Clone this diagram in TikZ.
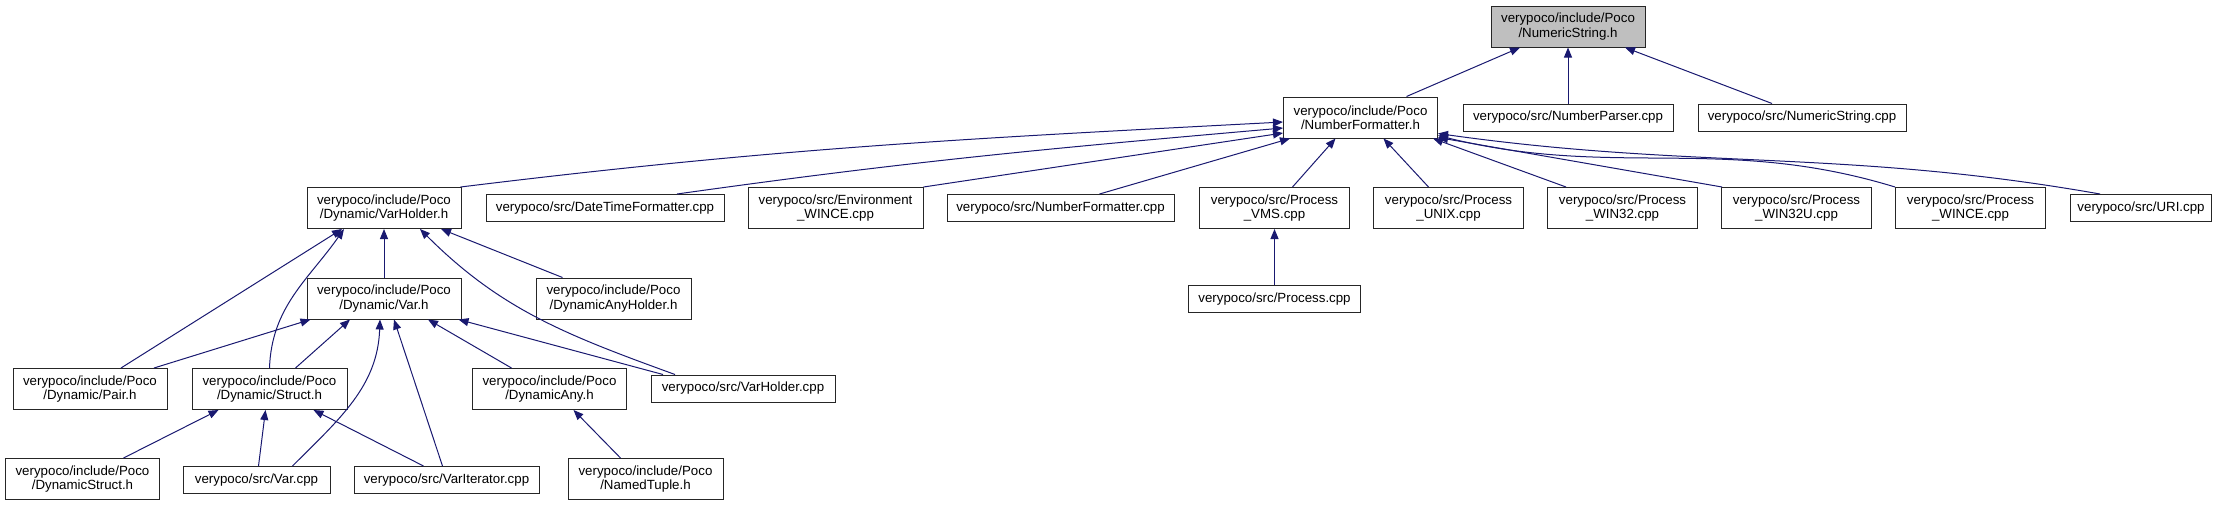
\documentclass[tikz,border=0pt]{standalone}
\usepackage{fontspec}
\setmainfont{Liberation Sans}
\usepackage{xcolor}
\usetikzlibrary{arrows.meta,positioning}
\definecolor{edgeblue}{HTML}{191970}

\begin{document}
\begin{tikzpicture}[
	x=1pt, y=-1pt,
	node distance=23pt,
	every node/.style={font=\fontsize{13.3}{14.5}\selectfont},
	box/.style={draw=black!85, line width=1pt, align=center, inner sep=0pt, minimum width=154pt, minimum height=41pt},
	one/.style={box, minimum height=27pt},
	root/.style={box, fill=black!25},
	arrow/.style={-{Triangle[length=10pt,width=8pt]}, edgeblue, line width=1pt}
	]
	\useasboundingbox (0,0) rectangle (2223,507);
	
	% top two rows
	\node[root] (NS) at (1568,26.5) {verypoco/include/Poco\\/NumericString.h};
	\node[box] (NF) at (1360.5,117.5) {verypoco/include/Poco\\/NumberFormatter.h};
	\node[one, minimum width=210pt] (NP) at (1568,117.5) {verypoco/src/NumberParser.cpp};
	\node[one, minimum width=208pt] (NSc) at (1802,117.5) {verypoco/src/NumericString.cpp};
	
	% files that include NumberFormatter.h
	\node[box] (VH) at (384,208) {verypoco/include/Poco\\/Dynamic/VarHolder.h};
	\node[one, minimum width=238pt] (DTF) at (605,208) {verypoco/src/DateTimeFormatter.cpp};
	\node[box, minimum width=175pt] (Env) at (835.5,208) {verypoco/src/Environment\\\_WINCE.cpp};
	\node[one, minimum width=227pt] (NFc) at (1060.5,208) {verypoco/src/NumberFormatter.cpp};
	\node[box, minimum width=150pt] (VMS) at (1274.5,208) {verypoco/src/Process\\\_VMS.cpp};
	\node[box, minimum width=150pt, right=of VMS] (UNIX) {verypoco/src/Process\\\_UNIX.cpp};
	\node[box, minimum width=150pt, right=of UNIX] (W32) {verypoco/src/Process\\\_WIN32.cpp};
	\node[box, minimum width=150pt, right=of W32] (W32U) {verypoco/src/Process\\\_WIN32U.cpp};
	\node[box, minimum width=150pt, right=of W32U] (WCE) {verypoco/src/Process\\\_WINCE.cpp};
	\node[one, minimum width=141pt, right=24pt of WCE] (URI) {verypoco/src/URI.cpp};
	\node[one, minimum width=172pt, below=56pt of VMS] (Pc) {verypoco/src/Process.cpp};
	
	% Dynamic part
	\node[box] (Var) at (384,298.5) {verypoco/include/Poco\\/Dynamic/Var.h};
	\node[box, minimum width=155pt] (DAH) at (613.5,298.5) {verypoco/include/Poco\\/DynamicAnyHolder.h};
	\node[box] (Pair) at (90,389) {verypoco/include/Poco\\/Dynamic/Pair.h};
	\node[box, minimum width=155pt] (Struct) at (269.5,389) {verypoco/include/Poco\\/Dynamic/Struct.h};
	\node[box] (DA) at (549.5,389) {verypoco/include/Poco\\/DynamicAny.h};
	\node[one, minimum width=184pt] (VHc) at (743,388.5) {verypoco/src/VarHolder.cpp};
	\node[box] (DS) at (82.5,479) {verypoco/include/Poco\\/DynamicStruct.h};
	\node[one, minimum width=147pt] (Vc) at (256.5,480) {verypoco/src/Var.cpp};
	\node[one, minimum width=185pt] (VI) at (446.5,480) {verypoco/src/VarIterator.cpp};
	\node[box, minimum width=155pt] (NT) at (645.5,479) {verypoco/include/Poco\\/NamedTuple.h};
	
	% edges into NumericString.h
	\draw[arrow] ([xshift=46pt]NF.north) -- ([xshift=-48pt]NS.south);
	\draw[arrow] (NP) -- (NS);
	\draw[arrow] ([xshift=-30pt]NSc.north) -- ([xshift=57pt]NS.south);
	
	% edges into NumberFormatter.h
	\draw[arrow] ([xshift=-1pt]VH.north east) to[out=7, in=183] ([yshift=-4.5pt]NF.west);
	\draw[arrow] ([xshift=72pt]DTF.north) to[out=8, in=185] ([yshift=-10.5pt]NF.west);
	\draw[arrow] (Env.north east) -- ([yshift=-15.5pt]NF.west);
	\draw[arrow] ([xshift=39pt]NFc.north) -- ([xshift=7pt]NF.south west);
	\draw[arrow] ([xshift=18pt]VMS.north) -- ([xshift=-25pt]NF.south);
	\draw[arrow] ([xshift=-20pt]UNIX.north) -- ([xshift=23pt]NF.south);
	\draw[arrow] ([xshift=19pt]W32.north west) -- ([xshift=-5pt]NF.south east);
	\draw[arrow] ([xshift=1pt]W32U.north west) -- ([yshift=1pt]NF.south east);
	\draw[arrow] (WCE.north west) to[out=163, in=-14] ([yshift=3pt]NF.south east);
	\draw[arrow] ([xshift=-41pt]URI.north) to[out=170, in=-8] ([yshift=5pt]NF.south east);
	\draw[arrow] (Pc) -- (VMS);
	
	% edges into VarHolder.h
	\draw[arrow] (Var) -- (VH);
	\draw[arrow] ([xshift=-51pt]DAH.north) -- ([xshift=57pt]VH.south);
	\draw[arrow] ([xshift=31pt]Pair.north) -- ([xshift=-42pt]VH.south);
	\draw[arrow] (Struct.north) to[out=88, in=-125] ([xshift=-40pt]VH.south);
	\draw[arrow] ([xshift=-68pt]VHc.north) to[out=160, in=-45] ([xshift=36pt]VH.south);
	
	% edges into Var.h
	\draw[arrow] ([xshift=64pt]Pair.north) -- ([xshift=4pt]Var.south west);
	\draw[arrow] ([xshift=26pt]Struct.north) -- ([xshift=-34pt]Var.south);
	\draw[arrow] ([xshift=36pt]Vc.north) to[out=45, in=-92] ([xshift=-4pt]Var.south);
	\draw[arrow] ([xshift=-4pt]VI.north) -- ([xshift=10pt]Var.south);
	\draw[arrow] ([xshift=-38pt]DA.north) -- ([xshift=44pt]Var.south);
	\draw[arrow] ([xshift=-80pt]VHc.north) -- ([xshift=-3pt]Var.south east);
	
	% edges into Struct.h and DynamicAny.h
	\draw[arrow] ([xshift=41pt]DS.north) -- ([xshift=-51pt]Struct.south);
	\draw[arrow] ([xshift=2pt]Vc.north) -- ([xshift=-4pt]Struct.south);
	\draw[arrow] ([xshift=-23pt]VI.north) -- ([xshift=44pt]Struct.south);
	\draw[arrow] ([xshift=-25pt]NT.north) -- ([xshift=24pt]DA.south);
	
\end{tikzpicture}
\end{document}
